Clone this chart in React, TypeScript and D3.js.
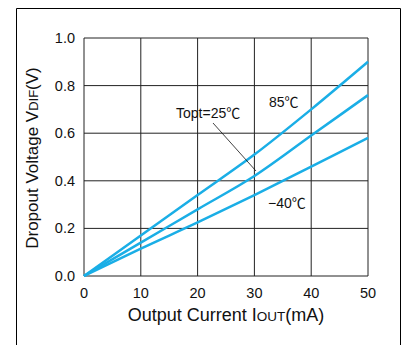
import * as d3 from 'd3';

const currents = [0, 10, 20, 30, 40, 50];
const v85 = [0, 0.17, 0.34, 0.51, 0.7, 0.9];
const v25 = [0, 0.14, 0.28, 0.42, 0.59, 0.76];
const vm40 = [0, 0.115, 0.225, 0.34, 0.46, 0.58];
const xTicks = [0, 10, 20, 30, 40, 50];
const yTicks = [0, 0.2, 0.4, 0.6, 0.8, 1.0];

const font = '"Liberation Sans", Arial, sans-serif';
const cjk = '"Noto Sans CJK JP", sans-serif';

function Deg() {
  return <tspan fontFamily={cjk}>℃</tspan>;
}

export default function App() {
  const margin = { left: 84, right: 34, top: 38, bottom: 69 };
  const width = 402;
  const height = 345;

  const x = d3.scaleLinear().domain([0, 50]).range([margin.left, width - margin.right]);
  const y = d3.scaleLinear().domain([0, 1]).range([height - margin.bottom, margin.top]);

  const line = d3
    .line<number>()
    .x((_, i) => x(currents[i]))
    .y(d => y(d))
    .curve(d3.curveMonotoneX);

  const series = [v85, v25, vm40];

  return (
    <svg
      width={width}
      height={height}
      style={{ position: 'absolute', left: 0, top: 0, display: 'block', background: '#fff' }}
      fontFamily={font}
    >
      {/* outer frame */}
      <path d={`M16.5,${height} V8.5 H400.5 V${height}`} fill="none" stroke="#000" strokeWidth={1} />

      {/* grid */}
      {xTicks.map(t => (
        <line key={'gx' + t} x1={x(t)} x2={x(t)} y1={y(0)} y2={y(1)} stroke="#222" strokeWidth={1} />
      ))}
      {yTicks.map(t => (
        <line key={'gy' + t} x1={x(0)} x2={x(50)} y1={y(t)} y2={y(t)} stroke="#222" strokeWidth={1} />
      ))}

      {/* tick labels */}
      {yTicks.map(t => (
        <text key={'ty' + t} x={x(0) - 9} y={y(t)} dy="0.35em" textAnchor="end" fontSize={14.5} fill="#111">
          {t.toFixed(1)}
        </text>
      ))}
      {xTicks.map(t => (
        <text key={'tx' + t} x={x(t)} y={y(0) + 22} textAnchor="middle" fontSize={14.5} fill="#111">
          {t}
        </text>
      ))}

      {/* curves */}
      {series.map((s, i) => (
        <path key={'s' + i} d={line(s) ?? ''} fill="none" stroke="#1aaee6" strokeWidth={2.5} />
      ))}

      {/* annotations */}
      <text x={269} y={107} fontSize={14} fill="#111">85<Deg /></text>
      <text x={176} y={118} fontSize={14} fill="#111">Topt=25<Deg /></text>
      <text x={268} y={208} fontSize={14} fill="#111">−40<Deg /></text>
      <line x1={213} y1={123} x2={256} y2={171} stroke="#111" strokeWidth={0.8} />

      {/* axis titles */}
      <text x={(x(0) + x(50)) / 2} y={321} textAnchor="middle" fontSize={18} fill="#111">
        Output Current I<tspan fontSize={13.5}>OUT</tspan>(mA)
      </text>
      <text
        transform={`translate(38,158) rotate(-90)`}
        textAnchor="middle"
        fontSize={17}
        fill="#111"
      >
        Dropout Voltage V<tspan fontSize={13}>DIF</tspan>(V)
      </text>
    </svg>
  );
}
